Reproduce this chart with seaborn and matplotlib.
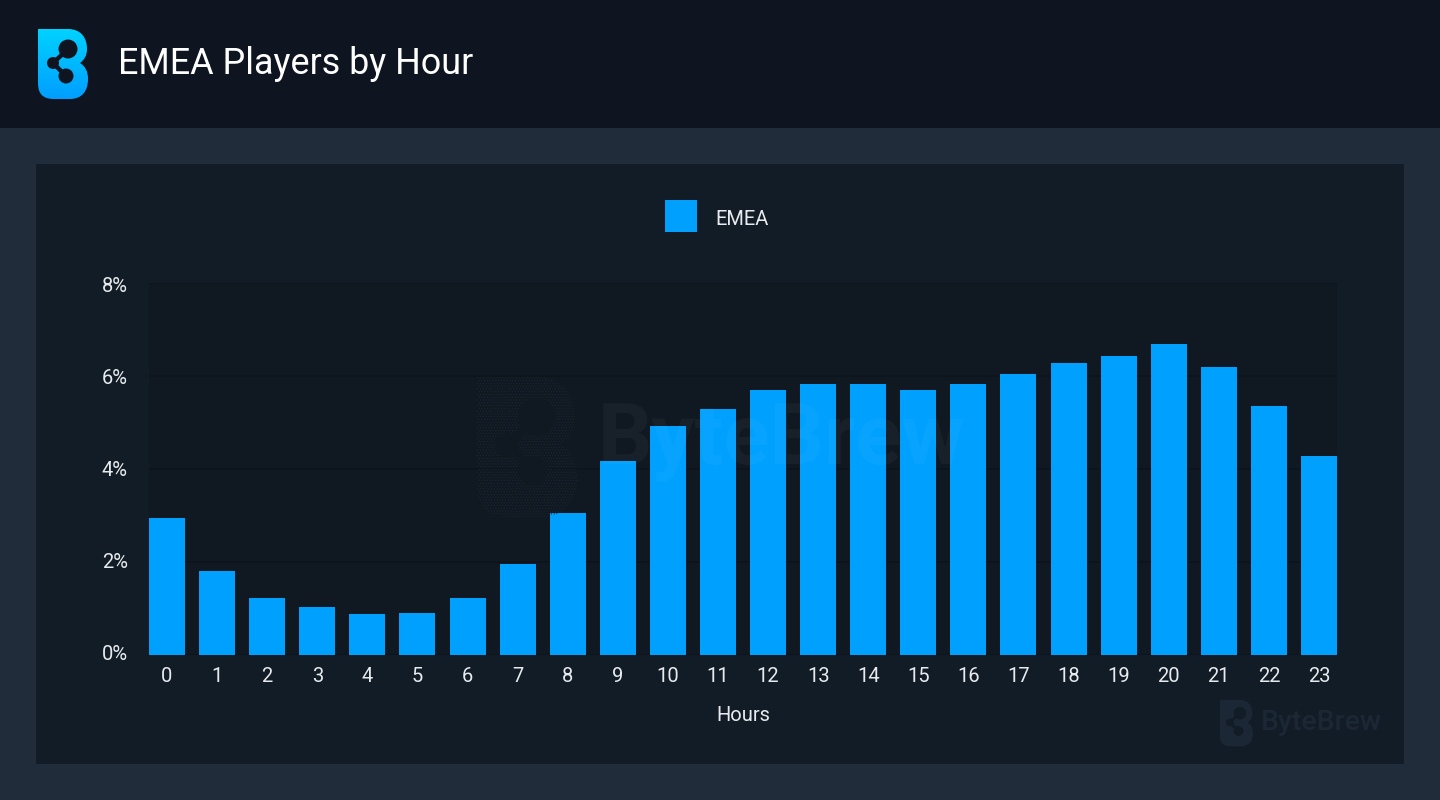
import numpy as np
import pandas as pd
import seaborn as sns
import matplotlib.pyplot as plt
from matplotlib.patches import Rectangle, Circle, PathPatch
from matplotlib.path import Path
from matplotlib.transforms import ScaledTranslation

hours = [str(h) for h in range(24)]
emea = [2.95, 1.80, 1.22, 1.03, 0.88, 0.90, 1.22, 1.96, 3.05, 4.17, 4.92, 5.29,
        5.70, 5.83, 5.83, 5.70, 5.83, 6.04, 6.28, 6.43, 6.69, 6.19, 5.35, 4.28]
yticks = [0, 2, 4, 6, 8]
ytick_labels = ["0%", "2%", "4%", "6%", "8%"]

outer_bg = "#202c3a"
header_bg = "#0e1520"
panel_bg = "#121c26"
plot_bg = "#101822"
grid_col = "#0d141d"
bar_col = "#00a0ff"
text_col = "#e8ebee"

sns.set_theme(style="dark")
plt.rcParams['font.family'] = ['Roboto', 'DejaVu Sans']
plt.rcParams['hatch.linewidth'] = 0.5

df = pd.DataFrame({"hour": hours, "share": emea, "region": "EMEA"})

W, H = 1440, 800
fig = plt.figure(figsize=(14.4, 8), dpi=100, facecolor=outer_bg)

# page blocks, in pixels
bg = fig.add_axes([0, 0, 1, 1], zorder=0)
bg.set_xlim(0, W)
bg.set_ylim(H, 0)
bg.axis("off")
bg.add_patch(Rectangle((0, 0), W, 128, color=header_bg, lw=0))
bg.add_patch(Rectangle((36, 164), 1368, 600, color=panel_bg, lw=0))

ax = fig.add_axes([149 / W, 1 - 655 / H, 1188 / W, 372 / H], zorder=1)
ax.set_facecolor(plot_bg)
sns.barplot(data=df, x="hour", y="share", color=bar_col, saturation=1, width=0.72,
            ax=ax, label="EMEA", zorder=3, linewidth=0, edgecolor="none")
ax.set_xlim(-0.36, 23.36)
ax.set_ylim(0, 8)
ax.set_yticks(yticks)
ax.set_yticklabels(ytick_labels)
ax.yaxis.grid(True, color=grid_col, lw=1.2, zorder=1)
ax.xaxis.grid(False)
ax.set_axisbelow(True)
ax.tick_params(axis="x", length=0, pad=9, labelsize=14.5, labelcolor=text_col)
ax.tick_params(axis="y", length=0, pad=15.3, labelsize=14.5, labelcolor=text_col)
ax.set_ylabel("")
ax.set_xlabel("Hours", fontsize=14.5, color=text_col, labelpad=14)
for s in ax.spines.values():
    s.set_visible(False)

# the y labels sit a bit closer together than the gridlines
for lab, off in zip(ax.get_yticklabels(), [2, 1, 0, -1, -2]):
    lab.set_transform(lab.get_transform() + ScaledTranslation(0, off / 100, fig.dpi_scale_trans))

leg = ax.legend(loc="center", bbox_to_anchor=(717 / W, 1 - 216 / H), bbox_transform=fig.transFigure,
                frameon=False, fontsize=14.5, handlelength=1.586, handleheight=2.06, handletextpad=0.9,
                labelcolor=text_col, borderpad=0)
leg.get_texts()[0].set_y(-3)

# logos and watermarks go on top of everything
top = fig.add_axes([0, 0, 1, 1], zorder=2)
top.patch.set_alpha(0)


def logo_path(x, y, s):
    # B shaped outline, 50x70 at s=1
    verts = [(0, 0), (30, 0), (44, 0), (49, 10), (49, 20), (49, 27), (46, 31), (42, 34),
             (47, 37), (50, 42), (50, 50), (50, 62), (44, 70), (32, 70),
             (16, 70), (4, 70), (0, 64), (0, 54), (0, 0), (0, 0)]
    codes = [Path.MOVETO, Path.LINETO, Path.CURVE4, Path.CURVE4, Path.CURVE4, Path.CURVE4, Path.CURVE4, Path.CURVE4,
             Path.CURVE4, Path.CURVE4, Path.CURVE4, Path.CURVE4, Path.CURVE4, Path.CURVE4,
             Path.LINETO, Path.CURVE4, Path.CURVE4, Path.CURVE4, Path.LINETO, Path.CLOSEPOLY]
    return Path([(x + a * s, y + b * s) for a, b in verts], codes)


def draw_holes(x, y, s, col):
    nodes = [(30, 20, 9.5), (15, 34, 6), (28, 47, 7.5)]
    for cx, cy, r in nodes:
        top.add_patch(Circle((x + cx * s, y + cy * s), r * s, color=col, lw=0, zorder=5))
    top.plot([x + 30 * s, x + 15 * s, x + 28 * s], [y + 20 * s, y + 34 * s, y + 47 * s],
             color=col, lw=3.2 * s, solid_capstyle="round", zorder=5)


# header logo with vertical gradient
patch = PathPatch(logo_path(38, 29, 1), fc="none", ec="none", zorder=1)
top.add_patch(patch)
grad = np.linspace(0, 1, 70).reshape(-1, 1)
c0, c1 = np.array([0, 210, 255]) / 255, np.array([0, 158, 255]) / 255
img = (c0 + (c1 - c0) * grad[..., None]).reshape(70, 1, 3)
im = top.imshow(img, extent=(38, 88, 99, 29), aspect="auto", zorder=2)
im.set_clip_path(patch)
top.set_xlim(0, W)
top.set_ylim(H, 0)
top.axis("off")
draw_holes(38, 29, 1, header_bg)

top.text(118, 64, "EMEA Players by Hour", fontsize=25.8, color="white", va="center", ha="left")

# big watermark in the middle of the plot
top.add_patch(PathPatch(logo_path(477, 377, 2.0), fc="none", ec="#1a2632", hatch="......", lw=0))
draw_holes(477, 377, 2.0, plot_bg)
top.text(598, 441, "ByteBrew", fontsize=61.6, fontweight="bold", color="white", alpha=0.035,
         va="center", ha="left")

# small watermark bottom right
top.add_patch(PathPatch(logo_path(1220, 700, 0.66), fc="#1b2734", ec="none", lw=0))
draw_holes(1220, 700, 0.66, panel_bg)
top.text(1261, 723, "ByteBrew", fontsize=20.4, fontweight="medium", color="#1b2734", va="center", ha="left")

fig.savefig("out.png", dpi=100, facecolor=outer_bg)
